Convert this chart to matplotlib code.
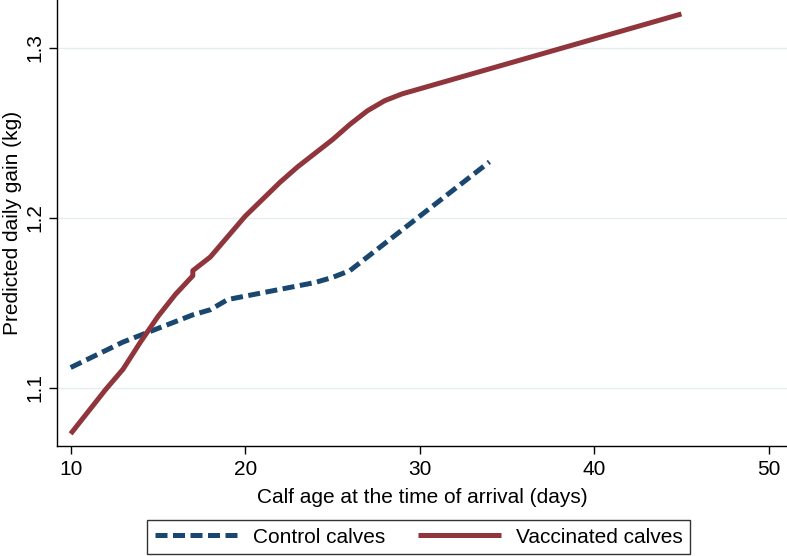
import matplotlib
matplotlib.use("Agg")
import matplotlib.pyplot as plt

plt.rcParams['font.family'] = ['Liberation Sans', 'DejaVu Sans']

# Data
control_age = [10, 11, 12, 13, 14, 15, 16, 17, 18, 19, 20, 21, 22, 23, 24, 25, 26,
               27, 28, 29, 30, 31, 32, 33, 34]
control_gain = [1.112, 1.117, 1.122, 1.127, 1.131, 1.135, 1.139, 1.143, 1.146, 1.152,
                1.154, 1.156, 1.158, 1.160, 1.162, 1.165, 1.169,
                1.177, 1.185, 1.193, 1.201, 1.209, 1.217, 1.225, 1.233]

vacc_age = [10, 11, 12, 13, 14, 15, 16, 17, 17, 18, 19, 20, 21, 22, 23, 24, 25,
            26, 27, 28, 29, 45]
vacc_gain = [1.073, 1.086, 1.099, 1.111, 1.127, 1.142, 1.155, 1.166, 1.169, 1.177,
             1.189, 1.201, 1.211, 1.221, 1.230, 1.238, 1.246, 1.255, 1.263, 1.269,
             1.273, 1.320]

series_labels = ["Control calves", "Vaccinated calves"]
x_ticks = [10, 20, 30, 40, 50]
y_ticks = [1.1, 1.2, 1.3]
x_label = "Calf age at the time of arrival (days)"
y_label = "Predicted daily gain (kg)"

navy = "#1a476f"
maroon = "#90353b"

fig = plt.figure(figsize=(7.87, 5.56), dpi=100)
ax = fig.add_axes([0.072, 0.198, 0.928, 0.802])

for y in y_ticks:
    ax.axhline(y, color="#e4edf0", lw=1.0, zorder=0)

ax.plot(control_age, control_gain, color=navy, lw=3.6, ls=(0, (2.4, 1.1)),
        dash_capstyle='butt', solid_joinstyle='round', label=series_labels[0], zorder=3)
ax.plot(vacc_age, vacc_gain, color=maroon, lw=3.6, solid_capstyle='butt',
        solid_joinstyle='round', label=series_labels[1], zorder=3)

ax.set_xlim(9.198, 51.05)
ax.set_ylim(1.0659, 1.3282)
ax.set_xticks(x_ticks)
ax.set_yticks(y_ticks)
ax.set_yticklabels([str(v) for v in y_ticks], rotation=90, va='center')

for s in ['top', 'right']:
    ax.spines[s].set_visible(False)
for s in ['left', 'bottom']:
    ax.spines[s].set_linewidth(1.0)
    ax.spines[s].set_color('black')

ax.tick_params(axis='both', direction='out', length=5.5, width=1.0, labelsize=15,
               colors='black')
ax.tick_params(axis='x', pad=5)
ax.tick_params(axis='y', pad=3)

ax.set_xlabel(x_label, fontsize=15, labelpad=6)
ax.set_ylabel(y_label, fontsize=15, labelpad=3)

leg = fig.legend(loc='center', bbox_to_anchor=(0.532, 0.034), ncol=2, fontsize=15,
                 frameon=True, fancybox=False, edgecolor='black', handlelength=4.0,
                 handletextpad=0.7, columnspacing=1.6, borderpad=0.35)
leg.get_frame().set_linewidth(1.0)

fig.savefig("out.png", dpi=100, facecolor='white')
